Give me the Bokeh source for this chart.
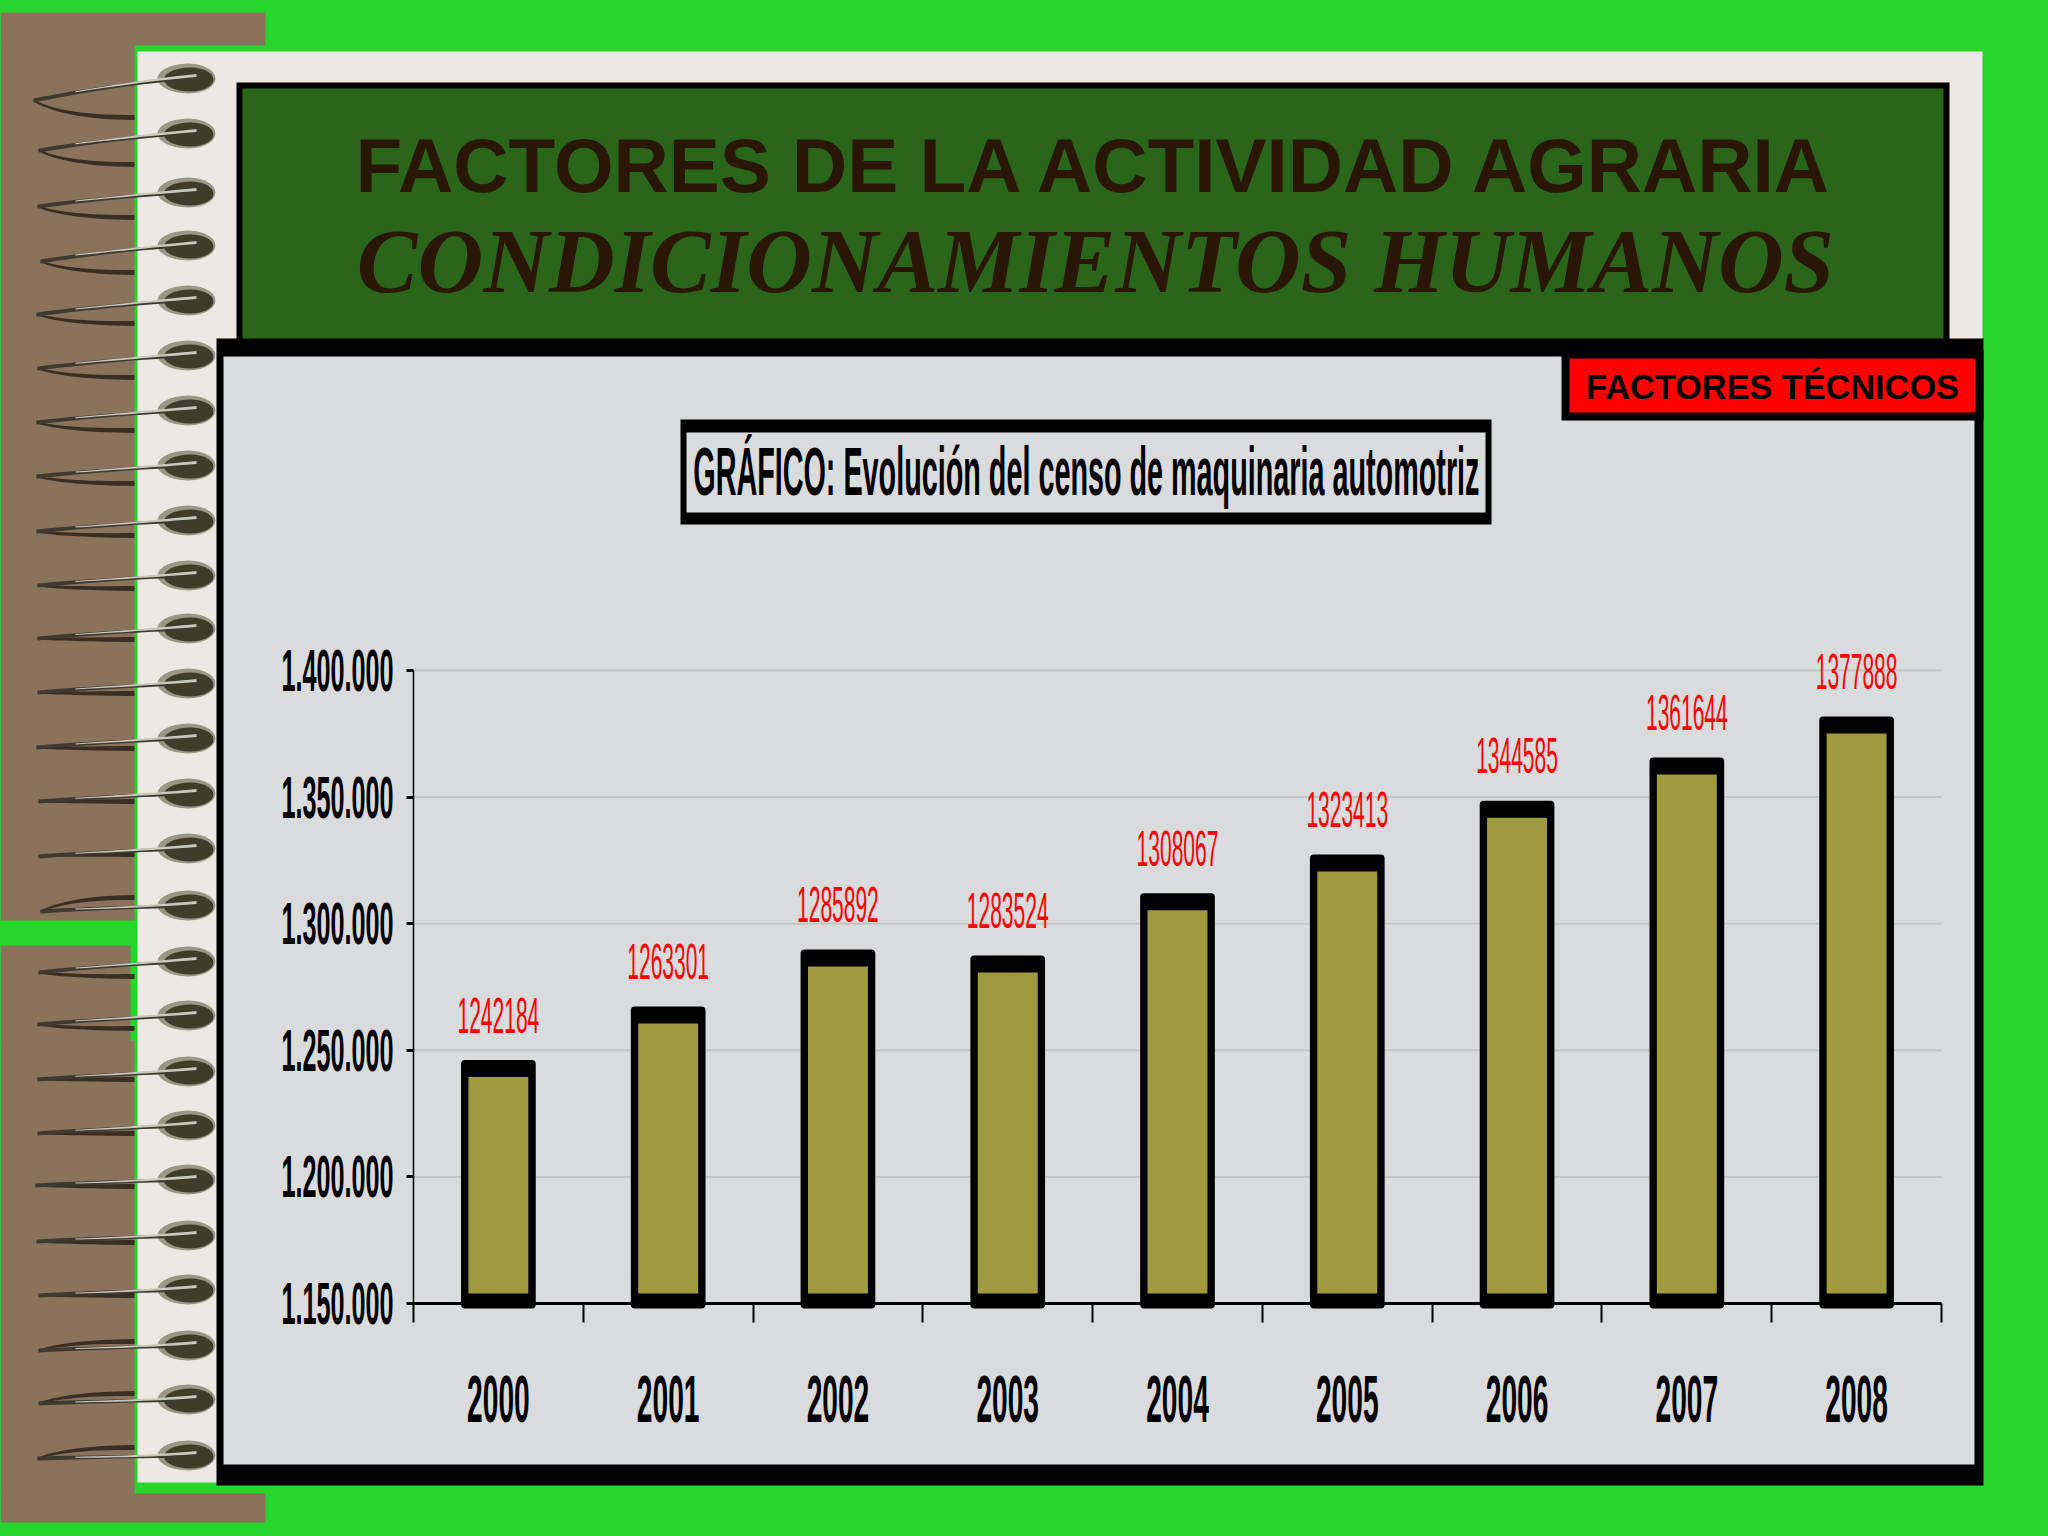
import math
from bokeh.plotting import figure, curdoc
from bokeh.embed import file_html
from bokeh.resources import INLINE
from bokeh.core.properties import value as fixed
from bokeh.models import (BoxAnnotation, PolyAnnotation, Label, ColumnDataSource, FixedTicker,
                          LinearAxis, Range1d, CustomJS)

# ---------- data ----------
years = ["2000", "2001", "2002", "2003", "2004", "2005", "2006", "2007", "2008"]
machines = [1242184, 1263301, 1285892, 1283524, 1308067, 1323413, 1344585, 1361644, 1377888]
y_ticks = [1150000, 1200000, 1250000, 1300000, 1350000, 1400000]
y_tick_labels = ["1.150.000", "1.200.000", "1.250.000", "1.300.000", "1.350.000", "1.400.000"]
title_top = "FACTORES DE LA ACTIVIDAD AGRARIA"
title_sub = "CONDICIONAMIENTOS HUMANOS"
badge = "FACTORES TÉCNICOS"
chart_title = "GRÁFICO: Evolución del censo de maquinaria automotriz"

# ---------- style ----------
GREEN, BROWN, PAGE = "#27D62B", "#8B725A", "#EDE8E3"
TITLE_BG, TITLE_TX, PANEL = "#2A661A", "#2A1605", "#DADBDC"
OLIVE, GRID = "#A09A3F", "#C4C4C4"
# These family strings mark text to be narrowed (centred, or right-aligned on the axis)
SQUEEZED = "Liberation Sans, sans-serif"
SQUEEZED_RIGHT = "Liberation Sans, Arial, sans-serif"
W, H = 2040, 1528
PX = 250000 / 633           # value units per pixel
AX_LEFT, AX_RIGHT = 413, 1941
BASE_Y = 1303
BAND = (AX_RIGHT - AX_LEFT) / len(years)
floor = y_ticks[0]


def X(px):
    return (px - AX_LEFT) / BAND


def Y(py):
    return floor + (BASE_Y - py) * PX


p = figure(width=W, height=H, output_backend="svg", toolbar_location=None,
           x_range=Range1d(X(0), X(W)), y_range=Range1d(Y(H), Y(0)),
           min_border=0, background_fill_color=GREEN, border_fill_color=GREEN, outline_line_color=None)


def box(l, t, r, b, fill):
    p.add_layout(BoxAnnotation(left=l, right=r, top=t, bottom=b,
                               left_units="canvas", right_units="canvas", top_units="canvas",
                               bottom_units="canvas", fill_color=fill, fill_alpha=1,
                               line_color=None, level="image", editable=False))


def poly(xs, ys, fill):
    p.add_layout(PolyAnnotation(xs=xs, ys=ys, xs_units="canvas", ys_units="canvas",
                                fill_color=fill, fill_alpha=1, line_color=None, level="image"))


def text(x, y, s, family, size, style="normal", color="black"):
    p.add_layout(Label(x=X(x), y=Y(y), text=s, text_font=family, text_font_size=size,
                       text_font_style=style, text_color=color, text_align="center",
                       text_baseline="middle"))


# ---------- page furniture ----------
box(0, 12, 265, 45, BROWN)
box(0, 44, 134, 920, BROWN)
box(0, 945, 130, 1041, BROWN)
box(0, 1040, 134, 1494, BROWN)
box(0, 1493, 265, 1522, BROWN)
box(137, 51, 1982, 1482, PAGE)


def bez(p0, p1, p2, n=14):
    out = []
    for i in range(n + 1):
        t = i / n
        out.append(((1 - t) ** 2 * p0[0] + 2 * t * (1 - t) * p1[0] + t * t * p2[0],
                    (1 - t) ** 2 * p0[1] + 2 * t * (1 - t) * p1[1] + t * t * p2[1]))
    return out


def ribbon(pts, w0, w1, fill):
    n = len(pts) - 1
    up = [(x, y - (w0 + (w1 - w0) * i / n) / 2) for i, (x, y) in enumerate(pts)]
    dn = [(x, y + (w0 + (w1 - w0) * i / n) / 2) for i, (x, y) in enumerate(pts)]
    ring = up + dn[::-1]
    poly([q[0] for q in ring], [q[1] for q in ring], fill)


def ellipse(cx, cy, rx, ry, fill):
    xs, ys = [], []
    for i in range(28):
        a = i / 28 * 2 * math.pi
        k = 1.0 if math.cos(a) > 0 else 1.15
        xs.append(cx + rx * k * math.cos(a))
        ys.append(cy + ry * math.sin(a))
    poly(xs, ys, fill)


ring_y = [78, 133, 192, 245, 300, 355, 410, 465, 520, 575, 628, 683, 738, 793, 848, 905,
          961, 1015, 1071, 1125, 1179, 1235, 1289, 1345, 1399, 1455]
ring_left = [33, 38, 37, 40, 36, 37, 36, 36, 36, 37, 37, 37, 36, 38, 38, 40,
             38, 37, 37, 37, 35, 36, 38, 38, 38, 37]
ring_mid = [22, 17, 14, 16, 14, 13, 12, 11, 11, 10, 10, 9, 9, 8, 8, 6, 11, 9, 8, 8, 6, 6, 6, 5, 4, 3]
ring_back = [39, 31, 25, 27, 23, 22, 20, 18, 15, 13, 11, 10, 10, 8, 6, -8, 15, 13, 8, 8, 7, 7, 6, -4, -6, -8]

for ry, lx, mid, back in zip(ring_y, ring_left, ring_mid, ring_back):
    ellipse(188, ry, 27, 15, "#9A9884")
    ellipse(190, ry + 1, 23, 12, "#3F3C2C")
    arc1 = bez((172, ry + 1), (105, ry + mid * 0.35), (lx, ry + mid))
    arc2 = bez((lx, ry + mid), (lx + 30, ry + back), (134, ry + back))
    ribbon(arc2, 2, 5, "#3A2E22")
    ribbon(arc1, 3, 4, "#3F3A30")
    ribbon(bez((196, ry - 3), (150, ry + 1), (75, ry + mid * 0.6)), 3, 1, "#C9C9BE")

# title box
box(236, 82, 1949, 345, "black")
box(242, 88, 1943, 340, TITLE_BG)
# panel
box(216, 338, 1983, 1485, "black")
box(223, 356, 1974, 1464, PANEL)
# badge
box(1561, 350, 1983, 420, "black")
box(1569, 358, 1975, 412, "#FF0000")
# chart title box
box(680, 419, 1491, 524, "black")
box(686, 432, 1485, 512, PANEL)

text(1096, 165, title_top, "Liberation Sans", "76.5px", "bold", TITLE_TX)
text(1095, 261, title_sub, "Liberation Serif", "91px", "bold italic", TITLE_TX)
text(1772, 386, badge, "Liberation Sans", "34.3px", "bold", "black")
text(1086, 471, chart_title, SQUEEZED, "68.5px", "bold", "black")

# ---------- chart ----------
centers = [i + 0.5 for i in range(len(years))]
src = ColumnDataSource(dict(
    x=centers, value=machines,
    outer_top=[v + 10 * PX for v in machines],
    inner_top=[v - 7 * PX for v in machines],
    label=[str(v) for v in machines],
))

p.xgrid.visible = False
p.ygrid.visible = False
p.segment(x0=0, x1=len(years), y0=y_ticks[1:], y1=y_ticks[1:], line_color=GRID, line_width=2, level="underlay")

p.vbar(x="x", top="outer_top", bottom=floor - 5 * PX, width=0.44, source=src,
       fill_color="black", line_color="black", line_width=0, border_radius=4)
p.vbar(x="x", top="inner_top", bottom=floor + 10 * PX, width=0.353, source=src,
       fill_color=OLIVE, line_color=None)
p.text(x="x", y="value", text="label", source=src, y_offset=-55, text_color="#FF0000",
       text_font=fixed(SQUEEZED), text_font_size="50px", text_align="center", text_baseline="middle")

ya = p.yaxis[0]
ya.fixed_location = 0
ya.ticker = FixedTicker(ticks=y_ticks)
ya.major_label_overrides = dict(zip(y_ticks, y_tick_labels))
ya.bounds = (y_ticks[0], y_ticks[-1])
ya.axis_line_color = "black"
ya.axis_line_width = 1.5
ya.major_tick_line_color = "black"
ya.major_tick_line_width = 3
ya.major_tick_out = 7
ya.major_tick_in = 0
ya.minor_tick_line_color = None
ya.major_label_standoff = 13
ya.major_label_text_font = SQUEEZED_RIGHT
ya.major_label_text_font_style = "bold"
ya.major_label_text_font_size = "60px"
ya.major_label_text_color = "black"

xa = p.xaxis[0]
xa.fixed_location = floor
xa.ticker = FixedTicker(ticks=centers)
xa.major_label_overrides = dict(zip(centers, years))
xa.axis_line_color = None
xa.major_tick_line_color = None
xa.minor_tick_line_color = None
xa.major_label_standoff = 67
xa.major_label_text_font = SQUEEZED
xa.major_label_text_font_style = "bold"
xa.major_label_text_font_size = "67px"
xa.major_label_text_color = "black"

bounds = list(range(len(years) + 1))
ticks = LinearAxis(ticker=FixedTicker(ticks=bounds), bounds=(0, len(years)),
                   fixed_location=floor, axis_line_color="black", axis_line_width=3,
                   major_tick_line_color="black", major_tick_line_width=2,
                   major_tick_out=19, major_tick_in=0, minor_tick_line_color=None,
                   major_label_text_font_size="0px",
                   major_label_overrides={i: "" for i in bounds})
p.add_layout(ticks, "below")

# The original's chart text is condensed far beyond any installed face: narrow the marked text.
squeeze = CustomJS(code="""
document.documentElement.style.background = '%s';
document.body.style.background = '%s';
const SX = 0.42;
function fix(t){
  if(t.dataset.st) return;
  const fam=t.getAttribute('font-family')||'';
  if(!fam.includes('sans-serif')) return;
  const bb=t.getBBox(); if(!bb.width) return;
  const cx = fam.includes('Arial') ? bb.x+bb.width : bb.x+bb.width/2;
  const old=t.getAttribute('transform')||'';
  t.setAttribute('transform', old+' translate('+cx+',0) scale('+SX+',1) translate('+(-cx)+',0)');
  t.dataset.st='1';
}
function walk(root){
  root.querySelectorAll('*').forEach(e=>{
    if(e.tagName==='text') fix(e);
    if(e.shadowRoot) walk(e.shadowRoot);
  });
}
walk(document);
let n=0;const h=setInterval(()=>{walk(document);if(++n>40)clearInterval(h);},100);
""" % (GREEN, GREEN))
doc = curdoc()
doc.add_root(p)
doc.js_on_event("document_ready", squeeze)

open("out.html", "w").write(file_html(p, INLINE))
